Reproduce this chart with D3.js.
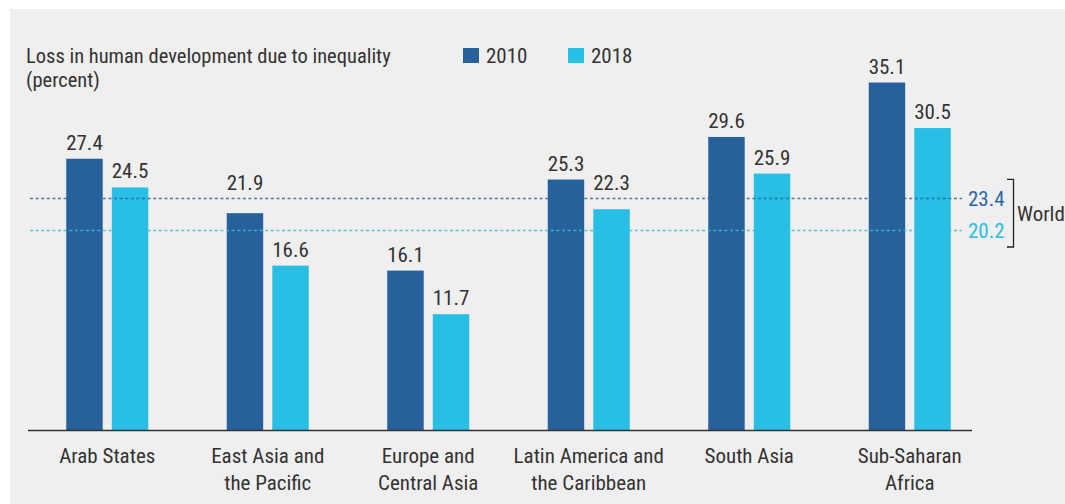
<!DOCTYPE html>
<html lang="en">
<head>
  <meta charset="UTF-8">
  <title>Loss in human development due to inequality</title>
  <style>
    body { margin: 0; background: #fff; }
    svg text {
      font-family: "Roboto Condensed", "Liberation Sans Narrow", "DejaVu Sans Condensed", sans-serif;
      fill: #333;
    }
  </style>
</head>
<body>
  <svg class="chart"></svg>
  <script src="https://cdn.jsdelivr.net/npm/d3@7"></script>
  <script>
    // data
    var regions = [
      ["Arab States"],
      ["East Asia and", "the Pacific"],
      ["Europe and", "Central Asia"],
      ["Latin America and", "the Caribbean"],
      ["South Asia"],
      ["Sub-Saharan", "Africa"]
    ];
    var years = ["2010", "2018"];
    var values2010 = [27.4, 21.9, 16.1, 25.3, 29.6, 35.1];
    var values2018 = [24.5, 16.6, 11.7, 22.3, 25.9, 30.5];
    var worldValues = [23.4, 20.2];

    var colors = ["#26619b", "#29bee3"];

    var width = 1065, height = 504;

    var svg = d3.select(".chart")
      .attr("width", width)
      .attr("height", height);

    // grey panel
    svg.append("rect")
      .attr("x", 10).attr("y", 9)
      .attr("width", width - 10).attr("height", height - 9)
      .attr("fill", "#efefef");

    var names = regions.map(function(r) { return r.join(" "); });

    var x0 = d3.scaleBand()
      .domain(names)
      .range([27, 990]);

    var mid = x0.bandwidth() / 2;
    var x1 = d3.scaleBand()
      .domain(years)
      .range([mid - 41, mid + 41])
      .paddingInner(0.2);

    var y = d3.scaleLinear()
      .domain([0, 40])
      .range([430, 34]);

    var color = d3.scaleOrdinal().domain(years).range(colors);

    var rows = names.map(function(n, i) {
      return {name: n, lines: regions[i], vals: [
        {year: years[0], value: values2010[i]},
        {year: years[1], value: values2018[i]}
      ]};
    });

    // value label sits 9px above the bar, unless a world line runs through it
    function labelY(v) {
      var base = y(v) - 9;
      worldValues.forEach(function(w) {
        var ly = y(w);
        if (ly > base - 17 && ly < base + 3) base = Math.min(base, ly - 8);
      });
      return base;
    }

    // bars
    var group = svg.selectAll("g.region")
      .data(rows)
      .enter().append("g")
      .attr("class", "region")
      .attr("transform", function(d) { return "translate(" + x0(d.name) + ",0)"; });

    group.selectAll("rect")
      .data(function(d) { return d.vals; })
      .enter().append("rect")
      .attr("x", function(d) { return x1(d.year); })
      .attr("y", function(d) { return y(d.value); })
      .attr("width", x1.bandwidth())
      .attr("height", function(d) { return y(0) - y(d.value); })
      .attr("fill", function(d) { return color(d.year); });

    group.selectAll("text.val")
      .data(function(d) { return d.vals; })
      .enter().append("text")
      .attr("class", "val")
      .attr("x", function(d) { return x1(d.year) + x1.bandwidth() / 2; })
      .attr("y", function(d) { return labelY(d.value); })
      .attr("text-anchor", "middle")
      .style("font-size", "21px")
      .text(function(d) { return d.value.toFixed(1); });

    // category labels
    group.append("text")
      .attr("x", mid)
      .attr("y", 463)
      .attr("text-anchor", "middle")
      .style("font-size", "21px")
      .selectAll("tspan")
      .data(function(d) { return d.lines; })
      .enter().append("tspan")
      .attr("x", mid)
      .attr("dy", function(d, i) { return i ? 27 : 0; })
      .text(function(d) { return d; });

    // baseline
    svg.append("line")
      .attr("x1", 28).attr("x2", 972)
      .attr("y1", y(0) + 0.5).attr("y2", y(0) + 0.5)
      .attr("stroke", "#333")
      .attr("stroke-width", 1.5);

    // world averages
    var worldColors = ["#2f66a3", "#33c0e4"];
    svg.selectAll("line.world")
      .data(worldValues)
      .enter().append("line")
      .attr("class", "world")
      .attr("x1", 30).attr("x2", 962)
      .attr("y1", function(d) { return Math.round(y(d)) + 0.5; })
      .attr("y2", function(d) { return Math.round(y(d)) + 0.5; })
      .attr("stroke", function(d, i) { return worldColors[i]; })
      .attr("stroke-width", 1.5)
      .attr("stroke-dasharray", "3,2.6")
      .attr("opacity", 0.85);

    svg.selectAll("text.world")
      .data(worldValues)
      .enter().append("text")
      .attr("class", "world")
      .attr("x", 968)
      .attr("y", function(d) { return y(d); })
      .attr("dy", "0.36em")
      .style("font-size", "21px")
      .style("fill", function(d, i) { return i === 0 ? "#2d66a6" : "#2fbde3"; })
      .text(function(d) { return d.toFixed(1); });

    var bTop = y(worldValues[0]) - 19, bBot = y(worldValues[1]) + 17;
    svg.append("path")
      .attr("d", "M1007," + bTop + "H1013.5V" + bBot + "H1007")
      .attr("fill", "none")
      .attr("stroke", "#222")
      .attr("stroke-width", 1.3);

    svg.append("text")
      .attr("x", 1017)
      .attr("y", (bTop + bBot) / 2)
      .attr("dy", "0.36em")
      .style("font-size", "21px")
      .text("World");

    // title
    var title = svg.append("text")
      .attr("x", 26).attr("y", 63)
      .style("font-size", "20.5px");
    title.append("tspan").attr("x", 26).text("Loss in human development due to inequality");
    title.append("tspan").attr("x", 26).attr("dy", 24).text("(percent)");

    // legend
    var legend = svg.selectAll("g.legend")
      .data(years)
      .enter().append("g")
      .attr("class", "legend")
      .attr("transform", function(d, i) { return "translate(" + (463 + i * 105) + ",48)"; });

    legend.append("rect")
      .attr("width", 16).attr("height", 15)
      .attr("fill", function(d) { return color(d); });

    legend.append("text")
      .attr("x", 23).attr("y", 15)
      .style("font-size", "21px")
      .text(function(d) { return d; });
  </script>
</body>
</html>
